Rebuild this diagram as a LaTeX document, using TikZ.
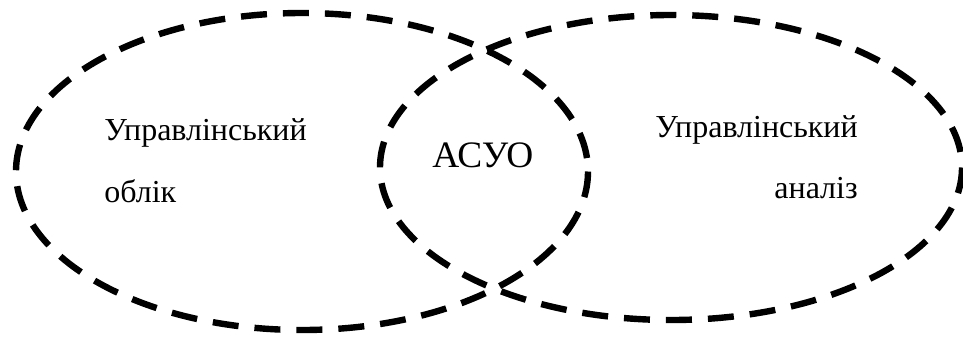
\documentclass[tikz,border=0pt]{standalone}
\usepackage{fontspec}
\setmainfont{Liberation Serif}[Ligatures=TeX]
\begin{document}
\begin{tikzpicture}[x=0.75pt,y=-0.75pt,
  ring/.style={draw=black, line width=4.8pt, dash pattern=on 19.5pt off 12pt},
  lbl/.style={inner sep=0pt, font=\rmfamily\fontsize{24}{28}\selectfont},
  big/.style={inner sep=0pt, font=\rmfamily\fontsize{28}{32}\selectfont}]
\useasboundingbox (0,0) rectangle (963,340);
\draw[ring] (302,171.5) ellipse [x radius=286, y radius=158.5];
\draw[ring] (671,167.5) ellipse [x radius=291, y radius=152.5];
\node[lbl, anchor=base west] (ul) at (104,140) {Управлінський};
\node[lbl, anchor=base west] (ob) at (104,202) {облік};
\node[big, anchor=base west] (asuo) at (432,167) {АСУО};
\node[lbl, anchor=base east] (ur) at (858,137) {Управлінський};
\node[lbl, anchor=base east] (an) at (858,198) {аналіз};
\end{tikzpicture}
\end{document}
